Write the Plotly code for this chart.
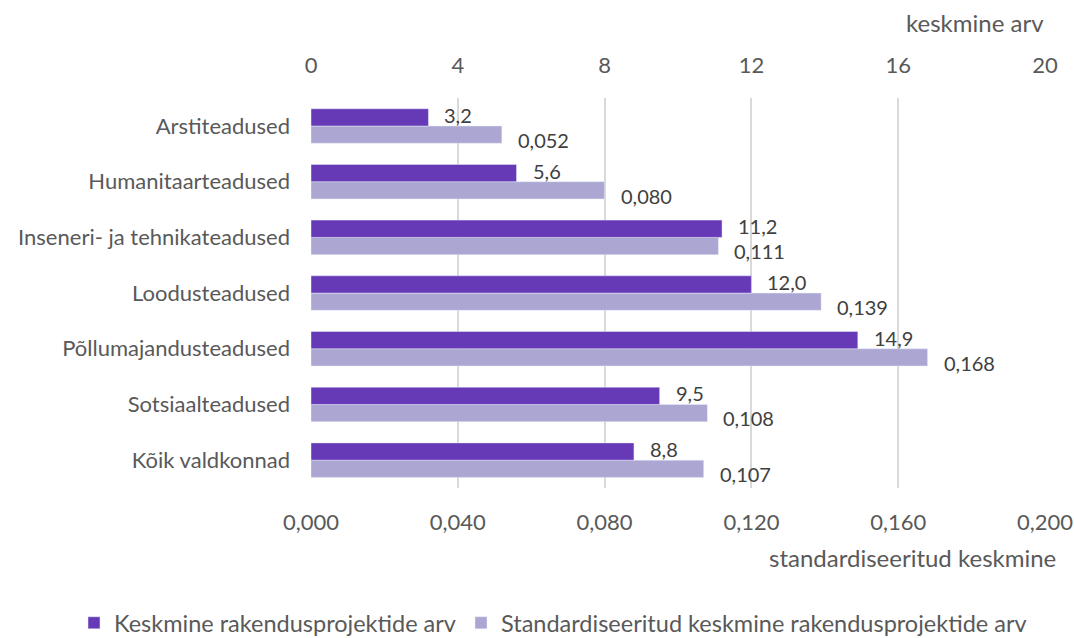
import plotly.graph_objects as go

categories = ["Arstiteadused", "Humanitaarteadused", "Inseneri- ja tehnikateadused",
              "Loodusteadused", "Põllumajandusteadused", "Sotsiaalteadused", "Kõik valdkonnad"]
mean_count = [3.2, 5.6, 11.2, 12.0, 14.9, 9.5, 8.8]
std_mean = [0.052, 0.080, 0.111, 0.139, 0.168, 0.108, 0.107]
top_ticks = [0, 4, 8, 12, 16, 20]
bottom_ticks = [0.0, 0.04, 0.08, 0.12, 0.16, 0.2]

DARK = "#6639B7"
LIGHT = "#ABA6D2"
TXT = "#595959"
FONT = "Lato"

def fmt(v, d):
    return f"{v:.{d}f}".replace(".", ",")

fig = go.Figure()
fig.add_trace(go.Bar(y=categories, x=mean_count, orientation="h", xaxis="x2",
                     name="Keskmine rakendusprojektide arv", marker_color=DARK,
                     width=0.31, offset=-0.31, legend="legend"))
fig.add_trace(go.Bar(y=categories, x=std_mean, orientation="h", xaxis="x",
                     name="Standardiseeritud keskmine rakendusprojektide arv", marker_color=LIGHT,
                     width=0.31, offset=0.0, legend="legend2"))

W, H = 1074, 638
L, R, T, B = 311, 29, 98, 150
pw, ph = W - L - R, H - T - B

ann = []
for c, v in zip(categories, mean_count):
    ann.append(dict(x=v, y=c, xref="x2", yref="y", text=fmt(v, 1), showarrow=False,
                    xanchor="left", yanchor="middle", xshift=14, yshift=11,
                    font=dict(family=FONT, size=20, color="#404040")))
for c, v in zip(categories, std_mean):
    ann.append(dict(x=v, y=c, xref="x", yref="y", text=fmt(v, 3), showarrow=False,
                    xanchor="left", yanchor="middle", xshift=14, yshift=-14,
                    font=dict(family=FONT, size=20, color="#404040")))
ann.append(dict(x=(1046 - L) / pw, y=(H - 22 - B) / ph, xref="paper", yref="paper",
                text="keskmine arv", showarrow=False, xanchor="right", yanchor="middle",
                font=dict(family=FONT, size=24, color=TXT)))
ann.append(dict(x=(1058 - L) / pw, y=(H - 557 - B) / ph, xref="paper", yref="paper",
                text="standardiseeritud keskmine", showarrow=False, xanchor="right",
                yanchor="middle", font=dict(family=FONT, size=24, color=TXT)))

leg_common = dict(orientation="h", xref="container", yref="container",
                  xanchor="left", y=15 / H, yanchor="middle",
                  font=dict(family=FONT, size=23.5, color=TXT), itemwidth=30,
                  bgcolor="rgba(0,0,0,0)")

fig.update_layout(
    width=W, height=H,
    margin=dict(l=L, r=R, t=T, b=B, autoexpand=False),
    paper_bgcolor="white", plot_bgcolor="white",
    font=dict(family=FONT, size=22, color=TXT),
    showlegend=True,
    legend=dict(x=74 / W, **leg_common),
    legend2=dict(x=461 / W, **leg_common),
    xaxis=dict(range=[0, 0.2], tickvals=bottom_ticks,
               ticktext=[fmt(t, 3) for t in bottom_ticks],
               showgrid=True, gridcolor="#D9D9D9", gridwidth=1.5, zeroline=False,
               showline=False, ticks="", ticklabelstandoff=19, side="bottom"),
    xaxis2=dict(range=[0, 20], tickvals=top_ticks, ticktext=[str(t) for t in top_ticks],
                overlaying="x", side="top", showgrid=False, zeroline=False,
                showline=False, ticks="", ticklabelstandoff=20),
    yaxis=dict(autorange="reversed", showgrid=False, zeroline=False, showline=False,
               ticks="", ticklabelstandoff=20),
    annotations=ann,
)

fig.write_html("out.html")
